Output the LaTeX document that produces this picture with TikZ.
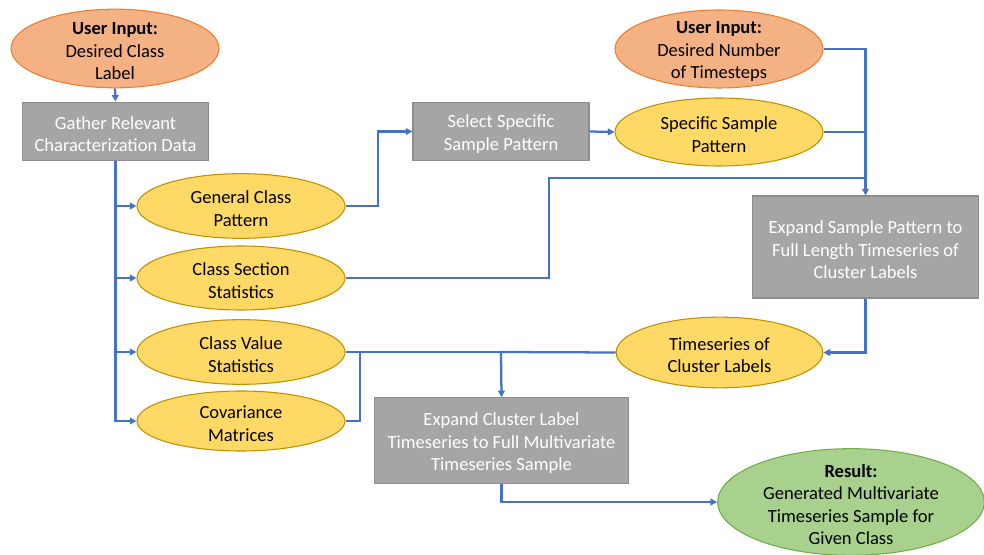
\documentclass[tikz,border=0pt]{standalone}
\usepackage{fontspec}
\setmainfont{Carlito}
\usetikzlibrary{shapes.geometric,arrows.meta}
\definecolor{lineblue}{HTML}{4472C4}
\definecolor{orfill}{HTML}{F4B183}
\definecolor{ordraw}{HTML}{ED7D31}
\definecolor{yefill}{HTML}{FFD966}
\definecolor{yedraw}{HTML}{BF9000}
\definecolor{grfill}{HTML}{A5A5A5}
\definecolor{grdraw}{HTML}{8C8C8C}
\definecolor{gnfill}{HTML}{A9D18E}
\definecolor{gndraw}{HTML}{70AD47}
\tikzset{
  txt/.style={align=center,font=\fontsize{13.9pt}{16.9pt}\selectfont,inner sep=0pt,yshift=-2pt},
  oval/.style={ellipse,inner sep=0pt,line width=0.8pt},
  orov/.style={oval,fill=orfill,draw=ordraw},
  yeov/.style={oval,fill=yefill,draw=yedraw},
  gnov/.style={oval,fill=gnfill,draw=gndraw},
  graybox/.style={rectangle,fill=grfill,draw=grdraw,line width=0.8pt,inner sep=0pt},
  conn/.style={draw=lineblue,line width=1.7pt},
  arr/.style={conn,-{Triangle[length=5pt,width=5pt]}}
}
\begin{document}
\begin{tikzpicture}[x=0.75pt,y=-0.75pt]
\useasboundingbox (0,0) rectangle (984,555);
% ellipses
\node[orov,minimum width=156pt,minimum height=59pt] (inA) at (115,48.5) {};
\node[txt] at (inA.center) {\textbf{User Input:}\\Desired Class\\Label};
\node[orov,minimum width=156pt,minimum height=58.5pt] (inB) at (719,49) {};
\node[txt] at (inB.center) {\textbf{User Input:}\\Desired Number\\of Timesteps};
\node[yeov,minimum width=156pt,minimum height=51pt] (ssp) at (719,132) {};
\node[txt] at (ssp.center) {Specific Sample\\Pattern};
\node[yeov,minimum width=156pt,minimum height=48.5pt] (gcp) at (241,206) {};
\node[txt] at (gcp.center) {General Class\\Pattern};
\node[yeov,minimum width=156pt,minimum height=48pt] (css) at (241,278) {};
\node[txt] at (css.center) {Class Section\\Statistics};
\node[yeov,minimum width=156pt,minimum height=48.5pt] (cvs) at (241,352) {};
\node[txt] at (cvs.center) {Class Value\\Statistics};
\node[yeov,minimum width=156pt,minimum height=45pt] (cov) at (241,421) {};
\node[txt] at (cov.center) {Covariance\\Matrices};
\node[yeov,minimum width=155pt,minimum height=53pt] (tcl) at (719.5,352.5) {};
\node[txt] at (tcl.center) {Timeseries of\\Cluster Labels};
\node[gnov,minimum width=200pt,minimum height=80pt] (res) at (851,502) {};
\node[txt] at (res.center) {\textbf{Result:}\\Generated Multivariate\\Timeseries Sample for\\Given Class};
% boxes
\node[graybox,minimum width=140pt,minimum height=44pt] (gat) at (115.5,131.5) {};
\node[txt,text=white] at (gat.center) {Gather Relevant\\Characterization Data};
\node[graybox,minimum width=132pt,minimum height=43pt] (sel) at (501,131.5) {};
\node[txt,text=white] at (sel.center) {Select Specific\\Sample Pattern};
\node[graybox,minimum width=169pt,minimum height=76.5pt] (esp) at (865.5,247) {};
\node[txt,text=white] at (esp.center) {Expand Sample Pattern to\\Full Length Timeseries of\\Cluster Labels};
\node[graybox,minimum width=190pt,minimum height=64pt] (ecl) at (501.5,440.5) {};
\node[txt,text=white] at (ecl.center) {Expand Cluster Label\\Timeseries to Full Multivariate\\Timeseries Sample};
% coordinates
\coordinate (j1) at (865,178);
\coordinate (j2) at (501,352);
\coordinate (j3) at (360,352);
% connectors
\draw[arr] (inA.south) -- (gat.north);
\draw[arr] (gat.south) |- (gcp.west);
\draw[arr] (gat.south) |- (css.west);
\draw[arr] (gat.south) |- (cvs.west);
\draw[arr] (gat.south) |- (cov.west);
\draw[arr] (gcp.east) -- (378,206) |- (sel.west);
\draw[arr] (sel.east) -- (ssp.west);
\draw[arr] (inB.east) -| (esp.north);
\draw[conn] (ssp.east) -- (865,132);
\draw[conn] (css.east) -- (549,278) |- (j1);
\draw[arr] (esp.south) |- (tcl.east);
\draw[conn] (cvs.east) -- (j2);
\draw[conn] (tcl.west) -- (j2);
\draw[conn] (cov.east) -| (j3);
\draw[arr] (j2) -- (ecl.north);
\draw[arr] (ecl.south) |- (res.west);
\end{tikzpicture}
\end{document}
